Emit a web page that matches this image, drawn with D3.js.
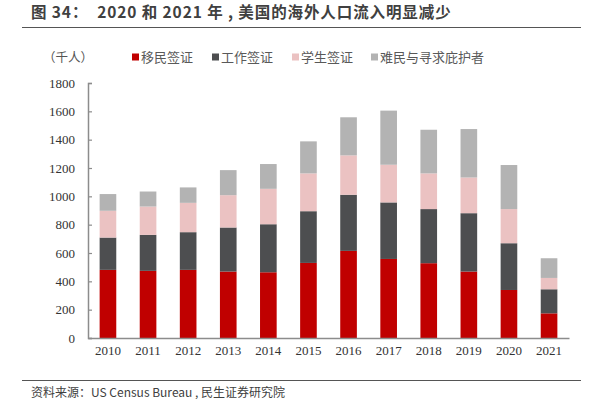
<!DOCTYPE html>
<html>
<head>
<meta charset="utf-8">
<script src="https://cdn.jsdelivr.net/npm/d3@7/dist/d3.min.js"></script>
<style>
  body { margin: 0; background: #fff; }
  svg { display: block; }
  text { white-space: pre; }
</style>
</head>
<body>
<div id="chart"></div>
<script>
// 数据（千人）
const years = ["2010", "2011", "2012", "2013", "2014", "2015", "2016", "2017", "2018", "2019", "2020", "2021"];
const seriesNames = ["移民签证", "工作签证", "学生签证", "难民与寻求庇护者"];
const immigrant = [481, 474, 481, 469, 464, 530, 615, 558, 528, 469, 339, 174];
const work = [228, 254, 266, 311, 339, 365, 396, 399, 382, 412, 330, 170];
const student = [189, 200, 207, 228, 250, 267, 278, 266, 252, 252, 241, 80];
const refugee = [118, 106, 109, 177, 175, 226, 269, 382, 308, 342, 311, 139];
const yTicks = [0, 200, 400, 600, 800, 1000, 1200, 1400, 1600, 1800];
const colors = ["#c00000", "#4d4e50", "#ebc2c2", "#b3b3b3"];

const width = 603, height = 413;
const margin = { left: 88, right: 34, top: 83, bottom: 75 };

const svg = d3.select("#chart").append("svg")
    .attr("width", width)
    .attr("height", height);

// 标题
svg.append("text")
    .attr("x", 31).attr("y", 18)
    .attr("font-family", "'Noto Sans CJK SC', sans-serif")
    .attr("font-size", 15.5).attr("font-weight", "bold")
    .attr("letter-spacing", 0.9)
    .attr("fill", "#404040")
    .text("图 34：  2020 和 2021 年 , 美国的海外人口流入明显减少");
svg.append("line")
    .attr("x1", 22).attr("x2", 581).attr("y1", 27.5).attr("y2", 27.5)
    .attr("stroke", "#555").attr("stroke-width", 1.2);

// 数据表
const table = years.map((y, i) => ({
    year: y,
    [seriesNames[0]]: immigrant[i],
    [seriesNames[1]]: work[i],
    [seriesNames[2]]: student[i],
    [seriesNames[3]]: refugee[i]
}));
const stacked = d3.stack().keys(seriesNames)(table);

const x = d3.scaleBand()
    .domain(years)
    .range([margin.left, width - margin.right])
    .paddingInner(0.585).paddingOuter(0.29);
const y = d3.scaleLinear()
    .domain([0, 1800])
    .range([height - margin.bottom, margin.top]);

// 柱子
svg.append("g").selectAll("g")
    .data(stacked)
    .enter().append("g")
    .attr("fill", (d, i) => colors[i])
    .selectAll("rect")
    .data(d => d)
    .enter().append("rect")
    .attr("x", d => x(d.data.year))
    .attr("width", x.bandwidth())
    .attr("y", d => y(d[1]))
    .attr("height", d => y(d[0]) - y(d[1]));

// Y 轴
const yAxis = svg.append("g")
    .attr("transform", `translate(${margin.left},0)`)
    .call(d3.axisRight(y).tickValues(yTicks).tickSize(4).tickFormat(d3.format("d")));
yAxis.select(".domain").attr("stroke", "#8c8c8c").attr("stroke-width", 1.5);
yAxis.selectAll(".tick line").attr("stroke", "#8c8c8c").attr("stroke-width", 1.2);
yAxis.selectAll(".tick text")
    .attr("x", -13).attr("text-anchor", "end")
    .attr("font-family", "'Liberation Serif', serif")
    .attr("font-size", 13).attr("fill", "#333");

// X 轴
const xAxis = svg.append("g")
    .attr("transform", `translate(0,${height - margin.bottom})`)
    .call(d3.axisBottom(x).tickSize(0));
xAxis.select(".domain").attr("stroke", "#8c8c8c").attr("stroke-width", 1.5);
xAxis.selectAll(".tick text")
    .attr("dy", "1.05em")
    .attr("font-family", "'Liberation Serif', serif")
    .attr("font-size", 13).attr("fill", "#333");

// 单位
svg.append("text")
    .attr("x", 43).attr("y", 62)
    .attr("font-family", "'Noto Sans CJK SC', sans-serif")
    .attr("font-size", 12.5).attr("fill", "#555")
    .text("（千人）");

// 图例
const legendX = [132, 212, 292, 371];
const legend = svg.append("g").selectAll("g")
    .data(seriesNames)
    .enter().append("g")
    .attr("transform", (d, i) => `translate(${legendX[i]},57)`);
legend.append("rect")
    .attr("x", 0).attr("y", -3.5).attr("width", 7).attr("height", 7)
    .attr("fill", (d, i) => colors[i]);
legend.append("text")
    .attr("x", 9).attr("y", 5)
    .attr("font-family", "'Noto Sans CJK SC', sans-serif")
    .attr("font-size", 13).attr("fill", "#595959")
    .text(d => d);

// 资料来源
svg.append("line")
    .attr("x1", 22).attr("x2", 581).attr("y1", 380.5).attr("y2", 380.5)
    .attr("stroke", "#555").attr("stroke-width", 1);
svg.append("text")
    .attr("x", 31).attr("y", 397)
    .attr("font-family", "'Noto Sans CJK SC', sans-serif")
    .attr("font-size", 12).attr("fill", "#404040")
    .text("资料来源：US Census Bureau , 民生证券研究院");
</script>
</body>
</html>
